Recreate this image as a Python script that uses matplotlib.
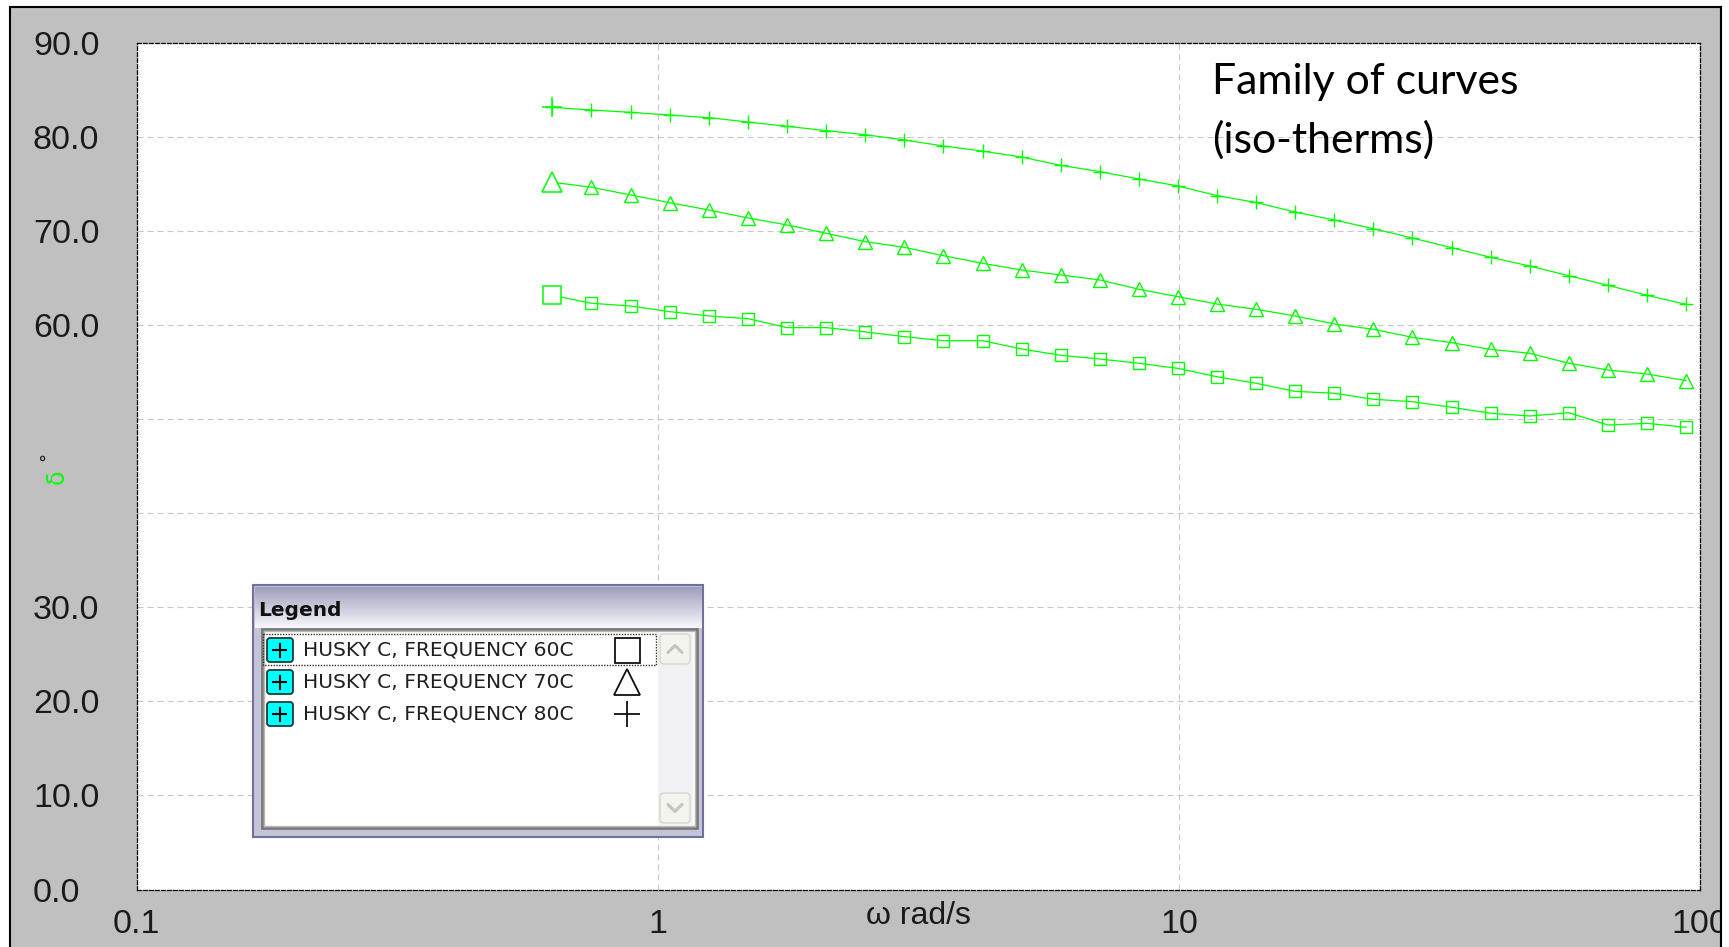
import numpy as np
import matplotlib
matplotlib.use('Agg')
import matplotlib.pyplot as plt
from matplotlib.patches import Rectangle, FancyBboxPatch
from matplotlib.ticker import NullLocator

# ---------------- data ----------------
omega = [0.628, 0.746, 0.887, 1.054, 1.253, 1.490, 1.771, 2.105, 2.502, 2.973,
         3.533, 4.200, 4.991, 5.932, 7.050, 8.379, 9.957, 11.83, 14.07, 16.72,
         19.87, 23.62, 28.07, 33.36, 39.65, 47.12, 56.00, 66.56, 79.11, 94.0]

delta_60 = [63.2, 62.35, 62.06, 61.46, 61.0, 60.71, 59.76, 59.76, 59.3, 58.8,
            58.37, 58.37, 57.49, 56.82, 56.42, 55.97, 55.43, 54.54, 53.84, 52.98,
            52.78, 52.14, 51.88, 51.29, 50.65, 50.36, 50.71, 49.4, 49.58, 49.16]

delta_70 = [75.22, 74.69, 73.87, 73.05, 72.27, 71.42, 70.68, 69.79, 68.9, 68.3,
            67.41, 66.6, 65.89, 65.36, 64.83, 63.84, 63.05, 62.27, 61.71, 61.0,
            60.15, 59.58, 58.73, 58.16, 57.45, 57.03, 55.97, 55.25, 54.83, 54.12]

delta_80 = [83.19, 82.90, 82.66, 82.37, 82.09, 81.63, 81.17, 80.71, 80.28, 79.72,
            79.08, 78.53, 77.9, 77.02, 76.35, 75.57, 74.83, 73.8, 73.07, 72.05,
            71.21, 70.28, 69.29, 68.26, 67.24, 66.31, 65.28, 64.26, 63.2, 62.24]

series_labels = ['HUSKY C, FREQUENCY 60C', 'HUSKY C, FREQUENCY 70C', 'HUSKY C, FREQUENCY 80C']
series_markers = ['s', '^', '+']

x_ticks = [0.1, 1, 10, 100]
x_tick_labels = ['0.1', '1', '10', '100']
y_ticks = [0, 10, 20, 30, 40, 50, 60, 70, 80, 90]
y_tick_labels = ['0.0', '10.0', '20.0', '30.0', '', '', '60.0', '70.0', '80.0', '90.0']

x_label = '\u03c9 rad/s'
note_lines = ['Family of curves', '(iso-therms)']

# ---------------- styling ----------------
plt.rcParams['font.family'] = ['Liberation Sans', 'DejaVu Sans']
W, H, DPI = 1729, 947, 100
GREEN = '#00ff00'
PT = 72.0 / DPI  # points per pixel

fig = plt.figure(figsize=(W / DPI, H / DPI), dpi=DPI, facecolor='white')


def px_axes(left, top, right, bottom, **kw):
    return fig.add_axes([left / W, 1 - bottom / H, (right - left) / W, (bottom - top) / H], **kw)


# background grey window
bg = fig.add_axes([0, 0, 1, 1], zorder=0)
bg.set_xlim(0, W); bg.set_ylim(H, 0); bg.axis('off')
bg.add_patch(Rectangle((10, 7), 1711, 980, facecolor='#c0c0c0', edgecolor='black', lw=1.5))

# main plot
L, T, R, B = 136.6, 43.3, 1700.0, 889.5
ax = px_axes(L, T, R, B, zorder=1)
ax.set_facecolor('white')
ax.set_xscale('log')
ax.set_xlim(0.1, 100)
ax.set_ylim(0, 90)

for s in ax.spines.values():
    s.set_linestyle((0, (3.0, 1.8)))
    s.set_color('black')
    s.set_linewidth(0.9)

ax.set_xticks(x_ticks, x_tick_labels)
ax.xaxis.set_minor_locator(NullLocator())
ax.set_yticks(y_ticks, y_tick_labels)
ax.tick_params(axis='both', length=0, labelsize=24.5, labelcolor='#1a1a1a')
ax.tick_params(axis='y', pad=(L - 33) * PT)
ax.tick_params(axis='x', pad=(909 - B) * PT)
for lab in ax.get_yticklabels():
    lab.set_horizontalalignment('left')

ax.grid(True, which='major', color='#c8c8c8', linestyle=(0, (5.5, 3.5)), linewidth=0.8)
ax.set_axisbelow(True)

series = [delta_60, delta_70, delta_80]
reg_ms = {'s': 8.5, '^': 10.0, '+': 10.0}
big_ms = {'s': 13.0, '^': 14.5, '+': 14.5}
for vals, mk in zip(series, series_markers):
    ax.plot(omega, vals, color=GREEN, lw=0.9, marker=mk, ms=reg_ms[mk],
            mfc='none', mec=GREEN, mew=1.0, zorder=3)
    ax.plot(omega[:1], vals[:1], linestyle='none', marker=mk, ms=big_ms[mk],
            mfc='white', mec=GREEN, mew=1.1, zorder=4)

# ---------------- overlay (pixel coordinates) ----------------
ov = fig.add_axes([0, 0, 1, 1], zorder=10)
ov.patch.set_visible(False)
ov.axis('off')

# right edge of the screenshot
ov.add_patch(Rectangle((1722, 0), 10, H, facecolor='white', edgecolor='none', zorder=1))
ov.plot([1721.5, 1721.5], [7, H], color='black', lw=1.5, zorder=2)

# axis label and annotation
ov.text(918, 916, x_label, ha='center', va='center', fontsize=23, color='#1a1a1a')
ov.text(57, 477, '\u03b4', rotation=90, ha='center', va='center', fontsize=17,
        color=GREEN, family=['DejaVu Sans'])
ov.text(47, 456, '\u00b0', rotation=90, ha='center', va='center', fontsize=13,
        color='#202020', family=['DejaVu Sans'])
ov.text(1212, 94.3, note_lines[0], ha='left', va='baseline', fontsize=30.8,
        family=['Lato', 'DejaVu Sans'], color='black')
ov.text(1212, 153, note_lines[1], ha='left', va='baseline', fontsize=30.8,
        family=['Lato', 'DejaVu Sans'], color='black')

# ---------------- legend window ----------------
lx0, ly0, lx1, ly1 = 252.7, 585, 703, 837
ov.add_patch(Rectangle((lx0, ly0), lx1 - lx0, ly1 - ly0, facecolor='#c4c4d8',
                       edgecolor='#70709a', lw=1.5, zorder=3))
grad = np.linspace(0, 1, 64)[:, None]
c_top = np.array([0.62, 0.62, 0.74])
c_bot = np.array([0.97, 0.97, 0.99])
img = (c_top[None, None, :] * (1 - grad[..., None]) + c_bot[None, None, :] * grad[..., None])
img = np.repeat(img, 2, axis=1)
ov.imshow(img, extent=(lx0 + 2, lx1 - 2, 628, ly0 + 2), aspect='auto', zorder=4,
          interpolation='bilinear')
ov.text(258, 610, 'Legend', ha='left', va='center', fontsize=14.5, fontweight='bold',
        family=['DejaVu Sans'], color='#101010', zorder=6)

# list box
bx0, by0, bx1, by1 = 261.7, 629, 697, 828
ov.add_patch(Rectangle((bx0, by0), bx1 - bx0, by1 - by0, facecolor='white',
                       edgecolor='#7a7a7a', lw=2.0, zorder=5))
ov.add_patch(Rectangle((bx0 + 2, by0 + 2), bx1 - bx0 - 4, by1 - by0 - 4, facecolor='none',
                       edgecolor='#b8b8b0', lw=1.0, zorder=5))

# scrollbar
ov.add_patch(Rectangle((658, 632), 35, 194, facecolor='#f2f2f6', edgecolor='none', zorder=6))
for (y0, up) in [(634, True), (793, False)]:
    ov.add_patch(FancyBboxPatch((660, y0), 30, 30, boxstyle='round,pad=0,rounding_size=4',
                                facecolor='#f4f4ee', edgecolor='#d6d6cc', lw=1.0, zorder=7))
    cy = y0 + 15
    d = -3.5 if up else 3.5
    ov.plot([668, 675, 682], [cy - d, cy + d, cy - d], color='#c4c4c4', lw=2.2,
            solid_capstyle='round', zorder=8)

# focus rectangle on first row
ov.add_patch(Rectangle((263.5, 634), 393, 31, facecolor='none', edgecolor='#303030',
                       lw=1.0, linestyle=(0, (1, 1)), zorder=7))

row_y0, row_dy = 650, 32
for i, (lab, mk) in enumerate(zip(series_labels, series_markers)):
    cy = row_y0 + i * row_dy
    ov.add_patch(FancyBboxPatch((267, cy - 12), 26, 24, boxstyle='round,pad=0,rounding_size=3',
                                facecolor='#00ffff', edgecolor='#1a3a3a', lw=1.3, zorder=8))
    ov.plot([273.5, 286.5], [cy, cy], color='black', lw=1.5, zorder=9)
    ov.plot([280, 280], [cy - 6.5, cy + 6.5], color='black', lw=1.5, zorder=9)
    ov.text(303, cy, lab, ha='left', va='center', fontsize=14.6, family=['DejaVu Sans'],
            color='#202020', zorder=9)
    ms = {'s': 18, '^': 19, '+': 19}[mk]
    ov.plot([627], [cy], marker=mk, ms=ms, mfc='none', mec='#101010', mew=1.3,
            linestyle='none', zorder=9)

ov.set_xlim(0, W)
ov.set_ylim(H, 0)

fig.savefig('out.png', dpi=DPI, facecolor='white')
